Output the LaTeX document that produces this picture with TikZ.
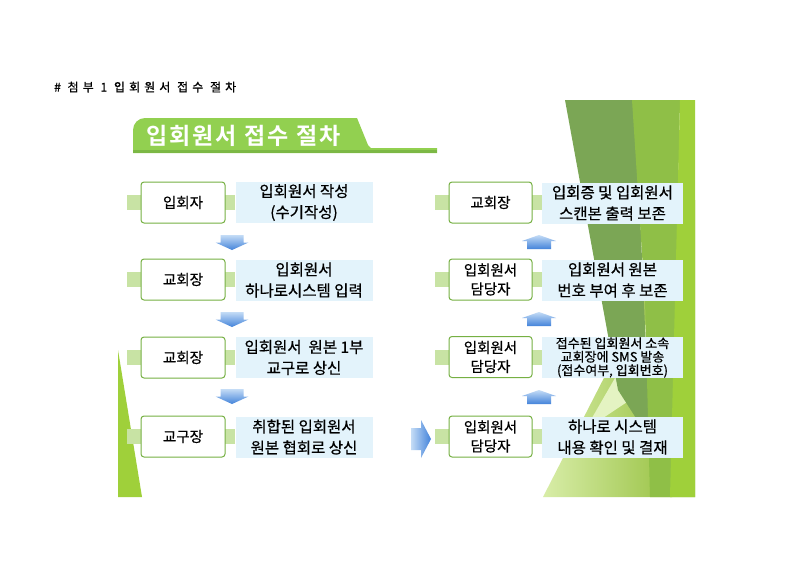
\documentclass[tikz,border=0pt]{standalone}
\usepackage{fontspec}
\setmainfont{Noto Sans CJK KR}
\newfontfamily\krm{Noto Sans CJK KR}[FakeBold=0.6]
\newfontfamily\hdrfont{Noto Sans CJK KR}[FakeBold=0.8, LetterSpace=34]
\newfontfamily\ttlfont{Noto Sans CJK KR Bold}[LetterSpace=9]
\definecolor{lgreen}{HTML}{76B043}
\definecolor{tabgreen}{HTML}{C8E3A4}
\definecolor{descblue}{HTML}{E3F3FB}
\definecolor{titlegreen}{HTML}{92D050}
\definecolor{titledark}{HTML}{7CB845}
\definecolor{olive}{HTML}{7BA655}
\definecolor{midgreen}{HTML}{8FBF47}
\definecolor{lime}{HTML}{9FD03A}
\definecolor{paleg}{HTML}{D8EDA8}
\definecolor{arrL}{HTML}{C4DCF6}
\definecolor{arrD}{HTML}{4383DA}
\tikzset{
  lbl/.style={draw=lgreen, line width=1pt, rounded corners=3pt, fill=white,
    minimum width=84, minimum height=41, inner sep=0pt, align=center,
    font=\krm\fontsize{14.5}{17}\selectfont},
  desc/.style={fill=descblue, minimum width=139, minimum height=41, inner sep=0pt,
    align=center, font=\krm\fontsize{15.5}{21}\selectfont},
  tab/.style={fill=tabgreen},
}
\newcommand\mydnarrow[2]{%
  \shade[top color=arrL, bottom color=arrD]
    ({#1-11.5},{#2}) -- ({#1+11.5},{#2}) -- ({#1+11.5},{#2+7.5}) -- ({#1+16.5},{#2+7.5})
    -- ({#1},{#2+15}) -- ({#1-16.5},{#2+7.5}) -- ({#1-11.5},{#2+7.5}) -- cycle;}
\newcommand\myuparrow[2]{%
  \shade[top color=arrL, bottom color=arrD]
    ({#1},{#2}) -- ({#1+17},{#2+6}) -- ({#1+12},{#2+6}) -- ({#1+12},{#2+14})
    -- ({#1-12},{#2+14}) -- ({#1-12},{#2+6}) -- ({#1-17},{#2+6}) -- cycle;}
\begin{document}
\begin{tikzpicture}[x=1pt,y=-1pt]
\useasboundingbox (0,0) rectangle (800,566);
\fill[white] (0,0) rectangle (800,566);

% background decoration right
\shade[left color=paleg, right color=lime!90!black] (543,497) -- (695,497) -- (695,200) -- cycle;
\fill[paleg!70!white] (585,430) -- (660,300) -- (630,400) -- cycle;
\fill[olive] (565,100) -- (635,100) -- (650,440) -- (618,390) -- cycle;
\fill[midgreen] (632,100) -- (680,100) -- (672,497) -- (650,497) -- (645,300) -- cycle;
\fill[lime] (680,100) -- (695,100) -- (695,497) -- (670,497) -- cycle;
% left triangle
\fill[lime] (118,350) -- (118,497) -- (142,497) -- cycle;

% header
\node[anchor=west, inner sep=0pt, font=\hdrfont\fontsize{12}{14}\selectfont] (hdr) at (54,87) {\# 첨부 1 입회원서 접수 절차};

% title bar
\fill[titlegreen] (133,153) -- (133,130) arc[start angle=180, end angle=270, radius=12] -- (357,118)
  -- (368,145) -- (371,148) -- (437,148) -- (437,153) -- cycle;
\fill[titledark] (133,150) rectangle (437,153);
\node[anchor=west, inner sep=0pt, text=white, font=\ttlfont\fontsize{23}{27}\selectfont] (title) at (146,136) {입회원서 접수 절차};

% left column tabs
\foreach \y in {202.5,279.5,357.5,436.5}{
  \fill[tab] (127,{\y-7.5}) rectangle (143,{\y+7.5});
  \fill[tab] (223,{\y-7.5}) rectangle (235,{\y+7.5});
}
% right column tabs
\foreach \y in {202.5,279.5,357,436.5}{
  \fill[tab] (435,{\y-7.5}) rectangle (451,{\y+7.5});
  \fill[tab] (530,{\y-7.5}) rectangle (542,{\y+7.5});
}

% left column
\node[lbl] (l1) at (183,202.5) {입회자};
\node[desc, minimum width=137] (d1) at (304,202.5) {입회원서 작성\\(수기작성)};
\node[lbl] (l2) at (183,279.5) {교회장};
\node[desc, minimum width=137] (d2) at (304,280) {입회원서\\하나로시스템 입력};
\node[lbl] (l3) at (183,357.5) {교회장};
\node[desc, minimum width=137] (d3) at (304,357.5) {입회원서\ \ 원본 1부\\교구로 상신};
\node[lbl] (l4) at (183,436.5) {교구장};
\node[desc, minimum width=137] (d4) at (304,437) {취합된 입회원서\\원본 협회로 상신};

% right column
\node[lbl, minimum width=83] (r1) at (490.5,202.5) {교회장};
\node[desc, minimum width=141] (e1) at (612.5,203) {입회증 및 입회원서\\스캔본 출력 보존};
\node[lbl, minimum width=83, font=\krm\fontsize{14.5}{19}\selectfont] (r2) at (490.5,279.5) {입회원서\\담당자};
\node[desc, minimum width=141] (e2) at (612.5,280) {입회원서 원본\\번호 부여 후 보존};
\node[lbl, minimum width=83, font=\krm\fontsize{14.5}{19}\selectfont] (r3) at (490.5,357) {입회원서\\담당자};
\node[desc, minimum width=141, font=\krm\fontsize{13}{13.5}\selectfont] (e3) at (612.5,357.5) {접수된 입회원서 소속\\교회장에 SMS 발송\\(접수여부, 입회번호)};
\node[lbl, minimum width=83, font=\krm\fontsize{14.5}{19}\selectfont] (r4) at (490.5,436.5) {입회원서\\담당자};
\node[desc, minimum width=141] (e4) at (612.5,437) {하나로 시스템\\내용 확인 및 결재};

% arrows
\mydnarrow{232}{235}
\mydnarrow{232}{312}
\mydnarrow{232}{389}
\myuparrow{539}{235}
\myuparrow{539}{312}
\myuparrow{539}{390}
\shade[left color=arrL, right color=arrD] (411,428) -- (421,428) -- (421,420) -- (431,439)
  -- (421,458) -- (421,450) -- (411,450) -- cycle;
\end{tikzpicture}
\end{document}
